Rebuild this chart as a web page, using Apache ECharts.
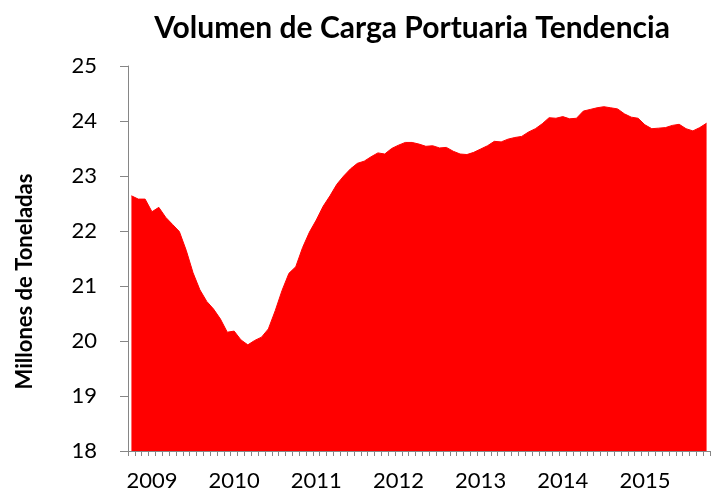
<!DOCTYPE html>
<html>
<head>
    <meta charset="utf-8">
    <title>Volumen de Carga Portuaria Tendencia</title>
    <script src="https://cdn.jsdelivr.net/npm/echarts@6/dist/echarts.min.js"></script>
</head>
<body style="margin:0">
<div id="chart" style="width:711px; height:497px;"></div>
<script type="text/javascript">
    // meses desde oct 2008 hasta oct 2015
    var meses = [];
    var anio = 2008, mes = 10;
    for (var i = 0; i < 85; i++) {
        meses.push(anio + '-' + (mes < 10 ? '0' + mes : mes));
        mes++;
        if (mes > 12) { mes = 1; anio++; }
    }

    // millones de toneladas (tendencia)
    var volumen = [
        22.64, 22.58, 22.58, 22.35, 22.43, 22.25, 22.12, 21.99, 21.65, 21.24,
        20.93, 20.72, 20.58, 20.40, 20.16, 20.18, 20.02, 19.93, 20.01, 20.07,
        20.22, 20.55, 20.92, 21.23, 21.35, 21.70, 21.98, 22.20, 22.45, 22.64,
        22.85, 23.00, 23.13, 23.23, 23.27, 23.35, 23.42, 23.40, 23.50, 23.56,
        23.61, 23.61, 23.58, 23.54, 23.55, 23.51, 23.52, 23.45, 23.40, 23.39,
        23.43, 23.49, 23.55, 23.63, 23.62, 23.67, 23.70, 23.72, 23.80, 23.86,
        23.95, 24.06, 24.05, 24.08, 24.04, 24.05, 24.18, 24.21, 24.24, 24.26,
        24.24, 24.22, 24.13, 24.07, 24.05, 23.93, 23.86, 23.87, 23.88, 23.92,
        23.94, 23.86, 23.82, 23.88, 23.96
    ];

    var fuente = 'Lato';
    var gris = '#868686';

    var myChart = echarts.init(document.getElementById('chart'));
    var option = {
        animation: false,
        title: {
            text: 'Volumen de Carga Portuaria Tendencia',
            left: 407,
            top: 8,
            textAlign: 'center',
            textStyle: {fontFamily: fuente, fontSize: 30, fontWeight: 'bold', color: '#000'}
        },
        grid: {left: 128, right: 1, top: 66, bottom: 46},
        xAxis: {
            type: 'category',
            data: meses,
            boundaryGap: true,
            axisLine: {lineStyle: {color: gris, width: 1}},
            axisTick: {show: true, interval: 0, length: 5, lineStyle: {color: gris}},
            axisLabel: {
                interval: function (index) { return index % 12 === 3; },
                formatter: function (v) { return v.substring(0, 4); },
                margin: 19,
                fontFamily: fuente,
                fontSize: 22,
                color: '#000'
            },
            splitLine: {show: false}
        },
        yAxis: {
            type: 'value',
            min: 18,
            max: 25,
            interval: 1,
            name: 'Millones de Toneladas',
            nameLocation: 'middle',
            nameGap: 92,
            nameTextStyle: {fontFamily: fuente, fontSize: 22, fontWeight: 'bold', color: '#000', padding: [0, 46, 0, 0]},
            axisLine: {show: true, lineStyle: {color: gris, width: 1}},
            axisTick: {show: true, length: 8, lineStyle: {color: gris}},
            axisLabel: {margin: 31, fontFamily: fuente, fontSize: 22, color: '#000'},
            splitLine: {show: false}
        },
        series: [
            {
                name: 'Volumen',
                type: 'line',
                data: volumen,
                symbol: 'none',
                lineStyle: {color: '#ff0000', width: 1},
                areaStyle: {color: '#ff0000', opacity: 1, origin: 'start'}
            }
        ]
    };
    myChart.setOption(option);
</script>
</body>
</html>
